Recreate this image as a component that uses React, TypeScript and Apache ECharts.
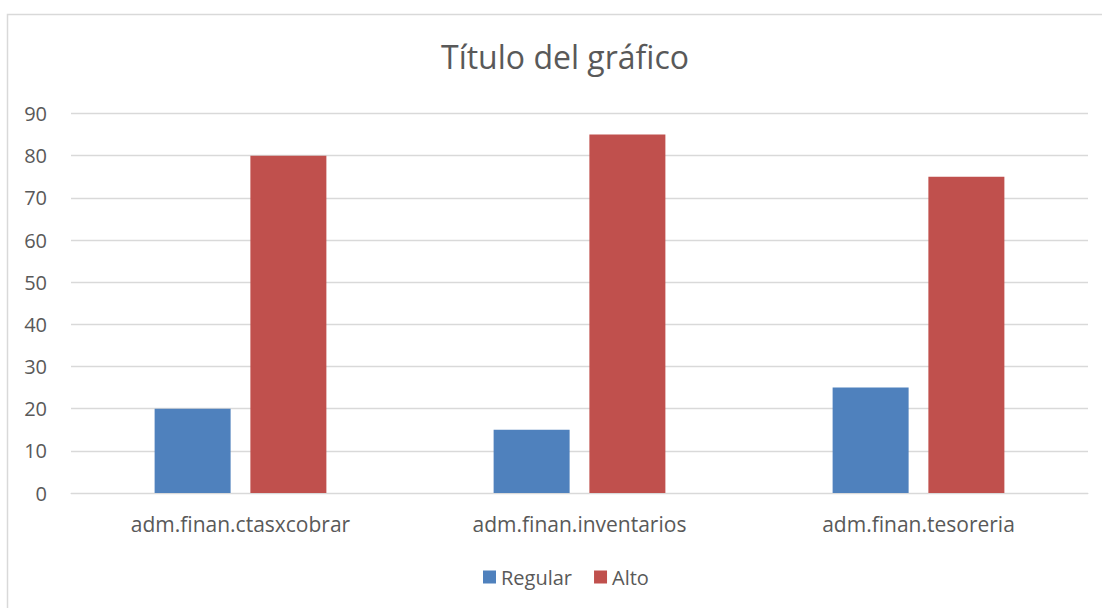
import React, { useEffect, useRef } from "react";
import * as echarts from "echarts";

const categories = ["adm.finan.ctasxcobrar", "adm.finan.inventarios", "adm.finan.tesoreria"];
const regular = [20, 15, 25];
const alto = [80, 85, 75];

export default function App() {
  const ref = useRef<HTMLDivElement>(null);
  useEffect(() => {
    const chart = echarts.init(ref.current!, null, { renderer: "svg" });
    const font = "'Open Sans', 'Noto Sans', sans-serif";
    chart.setOption({
      animation: false,
      backgroundColor: "#ffffff",
      title: {
        text: "Título del gráfico",
        left: 436,
        top: 35,
        textStyle: { fontFamily: font, fontSize: 32, fontWeight: "normal", color: "#595959" },
      },
      graphic: [
        {
          type: "rect",
          shape: { x: 7.5, y: 14.5, width: 1110, height: 610 },
          style: { fill: "none", stroke: "#D9D9D9", lineWidth: 1.5 },
          silent: true,
        },
      ],
      legend: {
        data: ["Regular", "Alto"],
        bottom: 16,
        left: 478,
        itemWidth: 13,
        itemHeight: 13,
        itemGap: 22,
        icon: "rect",
        textStyle: { fontFamily: font, fontSize: 20, color: "#595959" },
      },
      grid: { left: 71, right: 14, top: 113.5, bottom: 115 },
      xAxis: {
        type: "category",
        data: categories,
        axisLine: { lineStyle: { color: "#D9D9D9" } },
        axisTick: { show: false },
        axisLabel: { fontFamily: font, fontSize: 21, color: "#595959", margin: 20 },
      },
      yAxis: {
        type: "value",
        min: 0,
        max: 90,
        interval: 10,
        axisLine: { show: false },
        axisTick: { show: false },
        splitLine: { lineStyle: { color: "#D9D9D9", width: 1.3 } },
        axisLabel: { fontFamily: font, fontSize: 20, color: "#595959", margin: 24 },
      },
      series: [
        { name: "Regular", type: "bar", data: regular, barWidth: 76, barGap: "26%", itemStyle: { color: "#4F81BD" } },
        { name: "Alto", type: "bar", data: alto, barWidth: 76, barGap: "26%", itemStyle: { color: "#C0504D" } },
      ],
    });
    return () => chart.dispose();
  }, []);
  return <div ref={ref} style={{ position: "absolute", left: 0, top: 0, width: 1102, height: 608 }} />;
}
